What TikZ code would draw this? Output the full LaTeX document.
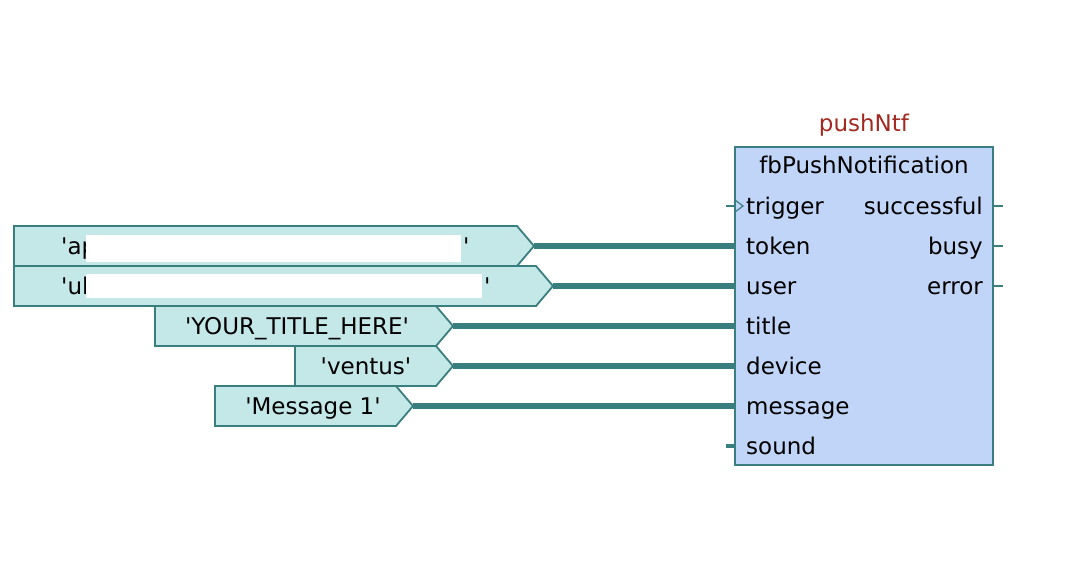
\documentclass[tikz,border=0pt]{standalone}
\usepackage{fontspec}
\setmainfont{DejaVu Sans}
\usepackage{xcolor}
\usepackage{tikz}
\usetikzlibrary{positioning}
\definecolor{wire}{HTML}{3A7F7F}
\definecolor{constfill}{HTML}{C4E7E7}
\definecolor{fbfill}{HTML}{C1D5F8}
\definecolor{instred}{HTML}{A32A22}
\newcommand{\sq}{\textquotesingle}

\begin{document}
\begin{tikzpicture}[x=1pt,y=-1pt,font=\fontsize{23}{27}\selectfont,
  const/.style={draw=wire,fill=constfill,line width=1.8pt},
  wirelink/.style={draw=wire,line width=5.5pt},
  stub/.style={draw=wire,line width=1.2pt},
  pinlabel/.style={inner sep=0pt}]
  \useasboundingbox[fill=white] (0,0) rectangle (1089,579);
  % function block
  \draw[fill=fbfill,draw=wire,line width=1.8pt] (735,147) rectangle (993,465);
  \node[text=instred] (inst) at (864,125) {pushNtf};
  \node (fbtype) at (864,165) {fbPushNotification};
  \foreach \pin/\y in {trigger/206,token/246,user/286,title/326,device/366,message/406,sound/446}
    { \node[pinlabel,anchor=base west] (\pin) at (746,\y+8) {\pin}; \coordinate (in-\pin) at (735,\y); }
  \foreach \pin/\y in {successful/206,busy/246,error/286}
    { \node[pinlabel,anchor=base east] (\pin) at (983,\y+8) {\pin};
      \coordinate (out-\pin) at (993,\y); \coordinate (end-\pin) at (1003,\y);
      \draw[stub] (out-\pin) -- (end-\pin); }
  % open inputs
  \coordinate (free-trigger) at (726,206);
  \coordinate (free-sound) at (726,446);
  \draw[stub] (free-trigger) -- (in-trigger);
  \draw[stub] (735,200) -- (743,206) -- (735,212);
  \draw[draw=wire,line width=3.5pt] (free-sound) -- (in-sound);
  % constants
  \foreach \c/\l/\r/\t in {ctoken/14/517/226,cuser/14/536/266,ctitle/155/436/306,cdevice/295/436/346,cmessage/215/396/386}
    { \draw[const] (\l,\t) -- (\r,\t) -- (\r+17,\t+20) -- (\r,\t+40) -- (\l,\t+40) -- cycle;
      \coordinate (\c) at (\r+17,\t+20); }
  \node[pinlabel,anchor=base west] (vtoken1) at (61,254) {\sq ap};
  \node[pinlabel,anchor=base west] (vtoken2) at (463,254) {\sq};
  \node[pinlabel,anchor=base west] (vuser1) at (61,294) {\sq ul};
  \node[pinlabel,anchor=base west] (vuser2) at (484,294) {\sq};
  \fill[white] (86,235) rectangle (461,262);
  \fill[white] (86,274) rectangle (482,298);
  \node[pinlabel,anchor=base] (vtitle) at (297,334) {\sq YOUR\_TITLE\_HERE\sq};
  \node[pinlabel,anchor=base] (vdevice) at (366,374) {\sq ventus\sq};
  \node[pinlabel,anchor=base] (vmessage) at (313,414) {\sq Message 1\sq};
  \foreach \c/\pin in {ctoken/token,cuser/user,ctitle/title,cdevice/device,cmessage/message}
    { \draw[wirelink] (\c) -- (in-\pin); }
\end{tikzpicture}
\end{document}
